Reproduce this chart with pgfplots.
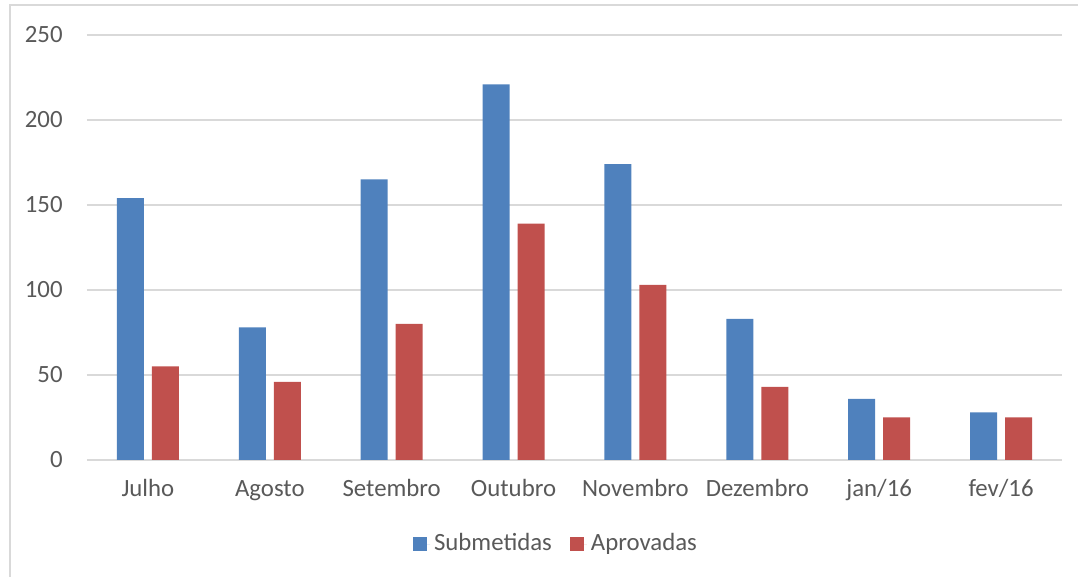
\documentclass[border=0pt]{standalone}
\usepackage{fontspec}
\setmainfont{Carlito}
\usepackage{pgfplots}
\pgfplotsset{compat=1.18}
\definecolor{sub}{HTML}{4F81BD}
\definecolor{apr}{HTML}{C0504D}
\definecolor{gridc}{HTML}{D9D9D9}
\definecolor{txt}{HTML}{595959}
\begin{document}
\fontsize{12}{14}\selectfont
\begin{tikzpicture}[x=1pt,y=1pt]
\useasboundingbox (-43.5,-58.5) rectangle (495.5,230);
\clip (-43.5,-58.5) rectangle (495.5,230);
\draw[gridc, line width=0.8pt] (-38.5,-80) rectangle (520,227.5);
\begin{axis}[
  at={(0,0)}, anchor=south west,
  scale only axis, width=487.5pt, height=212.5pt,
  ybar=4pt, bar width=13.5pt,
  xmin=-0.5, xmax=7.5, ymin=0, ymax=250,
  xtick={0,...,7},
  xticklabels={Julho,Agosto,Setembro,Outubro,Novembro,Dezembro,jan/16,fev/16},
  ytick={0,50,100,150,200,250},
  major tick length=0pt,
  axis line style={draw=none},
  ymajorgrids, grid style={gridc, line width=0.8pt},
  tick label style={text=txt, font=\fontsize{12.4}{14}\selectfont},
  xticklabel style={yshift=-5pt, text height=9pt, text depth=3pt},
  yticklabel style={xshift=-8pt},
  /pgf/number format/assume math mode=true,
  legend style={at={(0.482,-0.198)}, anchor=center, draw=none, fill=none,
    legend columns=2, font=\fontsize{12.4}{14}\selectfont, text=txt,
    /tikz/every even column/.append style={column sep=7pt}},
  legend image code/.code={\path (0pt,0pt) -- (8.5pt,0pt);\fill[#1] (0pt,-3.5pt) rectangle (7pt,3.5pt);},
]
\addplot[fill=sub, draw=none] coordinates {(0,154) (1,78) (2,165) (3,221) (4,174) (5,83) (6,36) (7,28)};
\addplot[fill=apr, draw=none] coordinates {(0,55) (1,46) (2,80) (3,139) (4,103) (5,43) (6,25) (7,25)};
\legend{Submetidas,Aprovadas}
\end{axis}
\end{tikzpicture}
\end{document}
